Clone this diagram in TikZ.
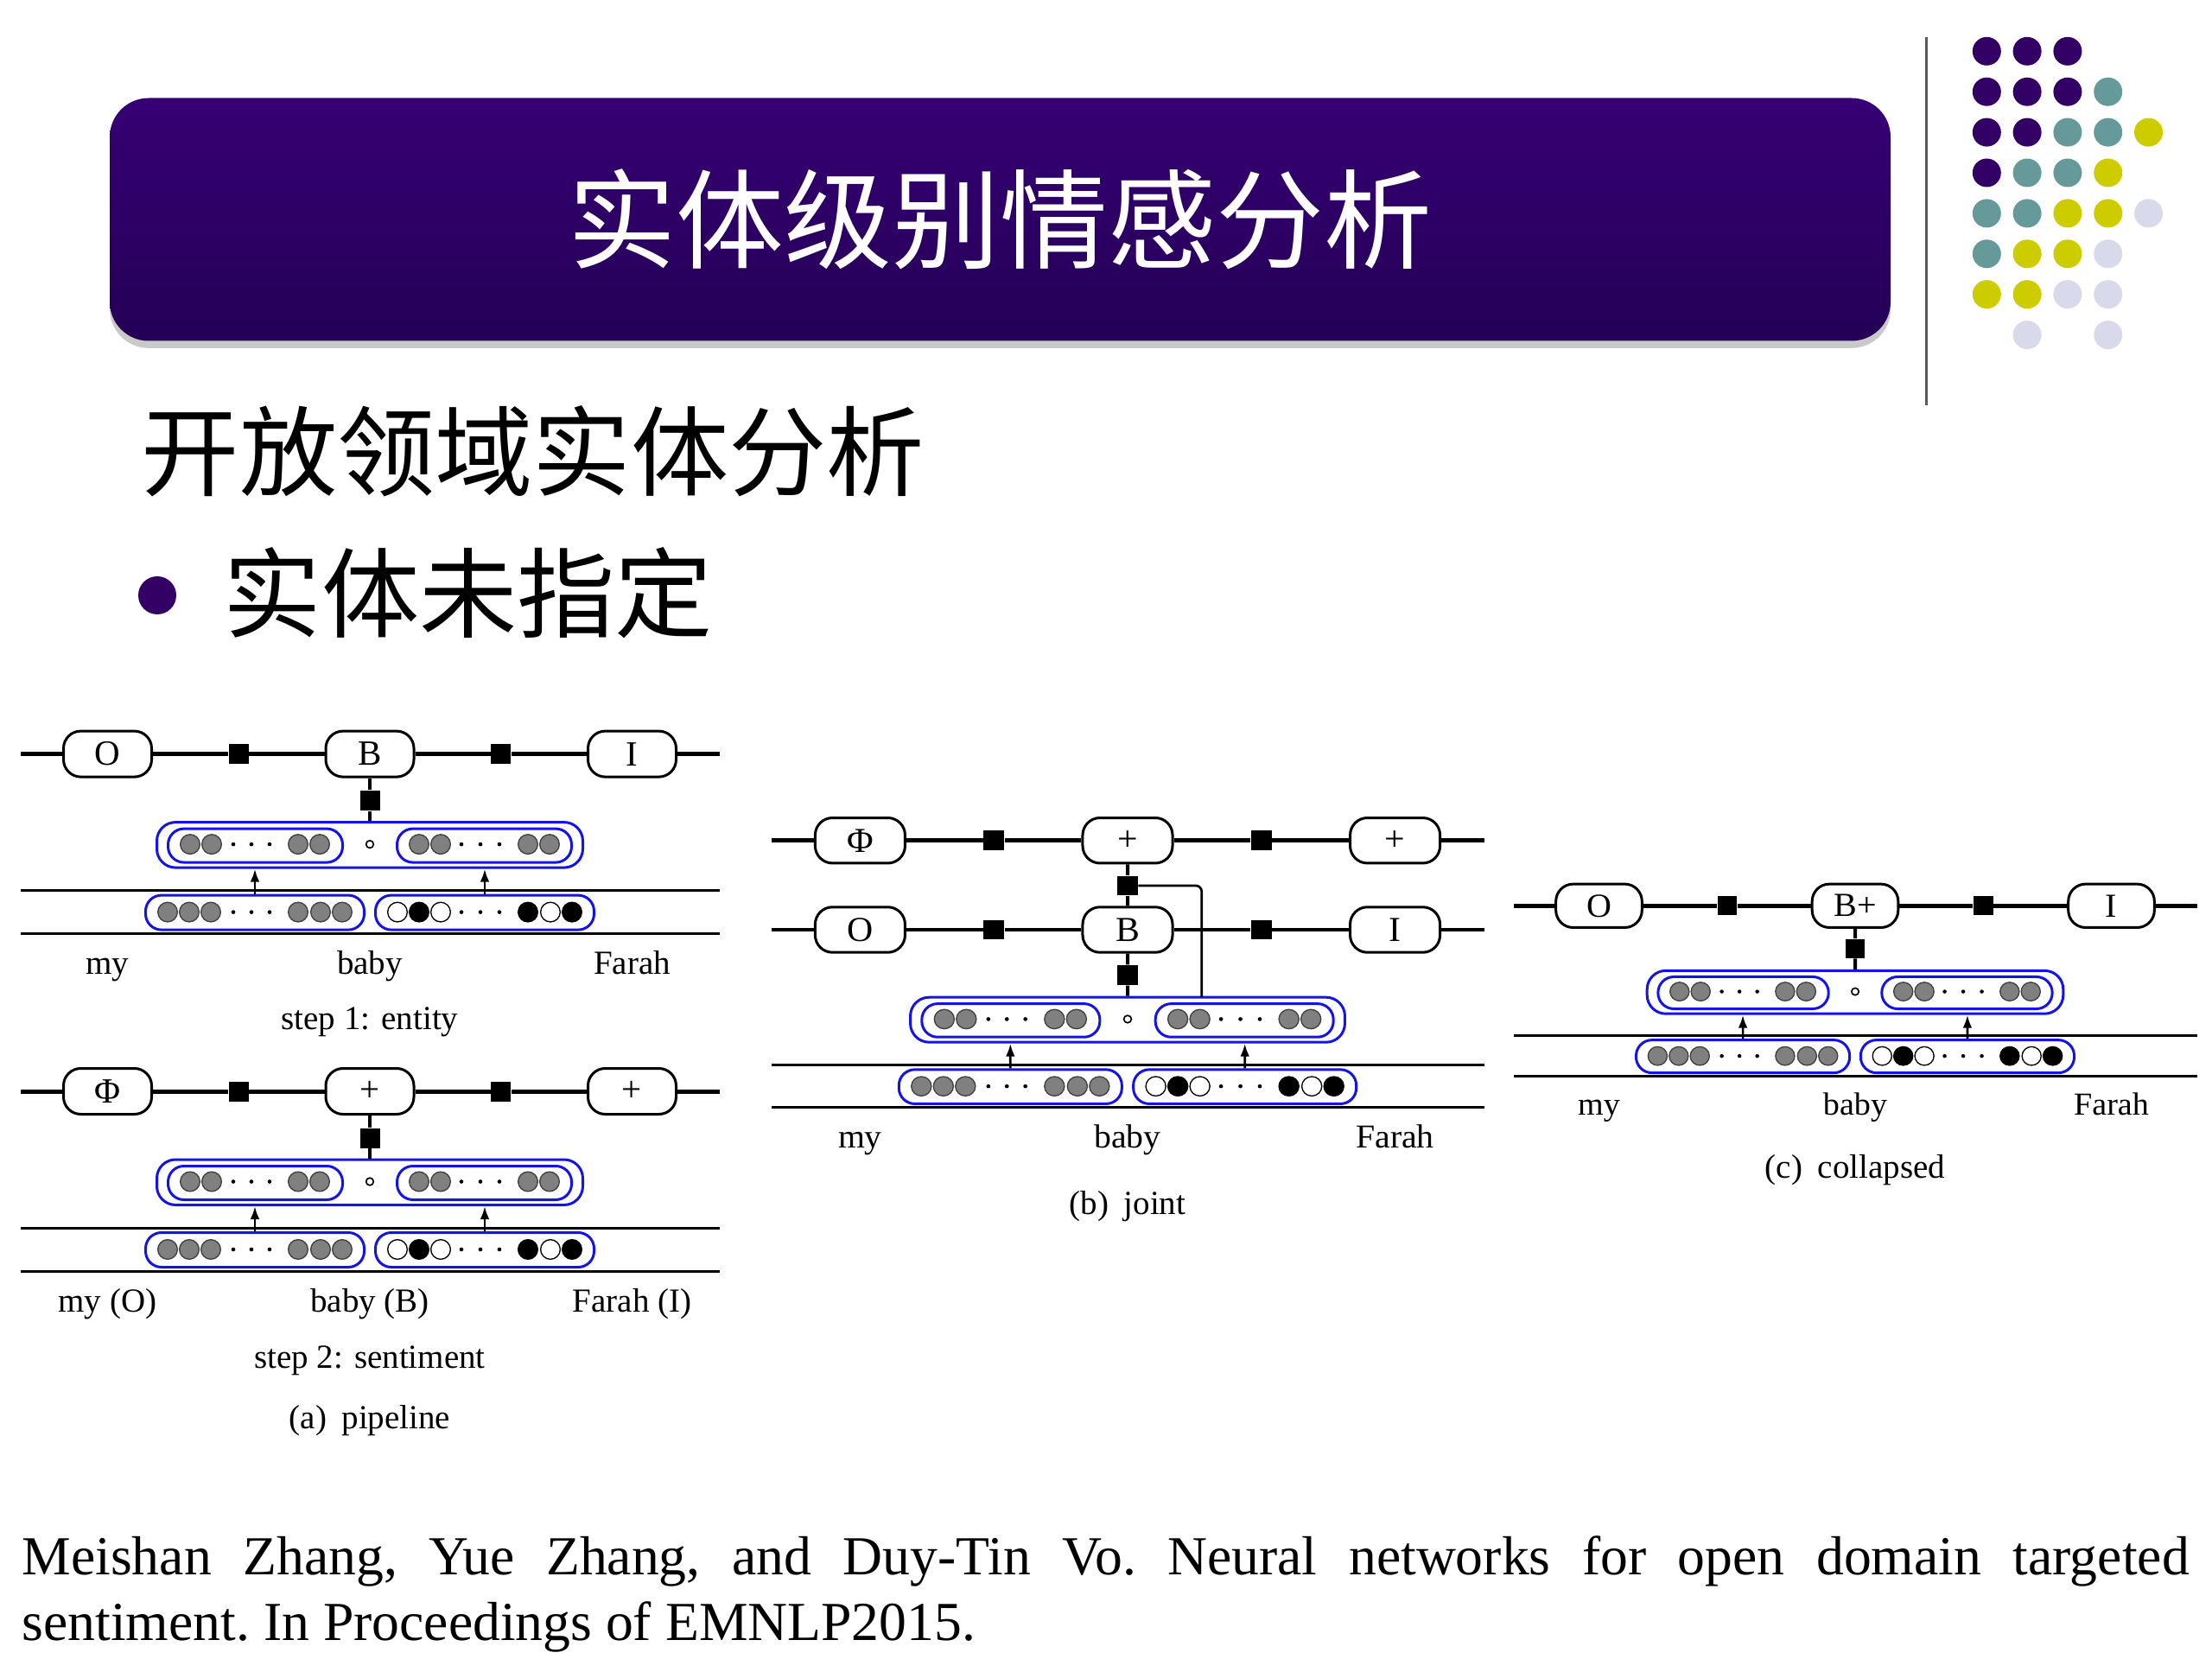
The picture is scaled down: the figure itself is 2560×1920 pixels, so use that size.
\documentclass[tikz,border=0pt]{standalone}
\usepackage{fontspec}
\setmainfont{Liberation Serif}
\newfontfamily\cjk{Noto Sans CJK SC}
\usepackage{tikz}
\usetikzlibrary{shadows,calc,arrows.meta}
\definecolor{ttop}{RGB}{54,0,116}
\definecolor{tbot}{RGB}{36,0,86}
\definecolor{dc0}{RGB}{51,0,102}
\definecolor{dc1}{RGB}{102,153,153}
\definecolor{dc2}{RGB}{204,204,0}
\definecolor{dc3}{RGB}{217,217,236}
\definecolor{boxblue}{RGB}{20,20,230}
\tikzset{lab/.style={draw,line width=0.9pt,rounded corners=6pt,fill=white,minimum width=30.6pt,minimum height=15.9pt,inner sep=0pt,font=\fontsize{12.3}{14}\selectfont},
fac/.style={fill,inner sep=0pt,minimum size=6.9pt},
hid/.style={draw=boxblue,line width=0.9pt,rounded corners=6.5pt,minimum width=147.9pt,minimum height=15.75pt,inner sep=0pt},
sub/.style={draw=boxblue,line width=0.9pt,rounded corners=5.5pt,minimum width=60.6pt,minimum height=11.7pt,inner sep=0pt},
wrd/.style={draw=boxblue,line width=0.9pt,rounded corners=5.5pt,minimum width=75.9pt,minimum height=12pt,inner sep=0pt},
gd/.style={circle,draw=black!75,line width=0.4pt,fill=gray,inner sep=0pt,minimum size=6.8pt},
bd/.style={gd,draw=black,fill=black},wd/.style={gd,draw=black,fill=white},
sd/.style={circle,fill,inner sep=0pt,minimum size=1.4pt},
od/.style={circle,draw,line width=0.5pt,inner sep=0pt,minimum size=2.6pt},
txt/.style={inner sep=0pt,font=\fontsize{11.7}{14}\selectfont},
chain/.style={line width=1.5pt},chainb/.style={line width=1.1pt},
vert/.style={line width=1.2pt},thin/.style={line width=0.9pt},link/.style={line width=0.8pt,rounded corners=2pt},
up/.style={-{Latex[length=4.5pt,width=3.2pt]},line width=0.8pt}}
\tikzset{head/.style={rounded corners=13.5pt,minimum width=618.3pt,minimum height=84.3pt,inner sep=0pt,top color=ttop,bottom color=tbot,text=white,font=\cjk\fontsize{37.5}{40}\selectfont,drop shadow={shadow xshift=0pt,shadow yshift=-2.5pt,opacity=0.35,fill=black!60}},
cjktxt/.style={inner sep=0pt,font=\cjk\fontsize{34}{36}\selectfont}}
% one row of tags joined by factors
\newcommand{\tagrow}[6][chain]{%
\node[lab] (#2L) at (-303.5,#3) {#4};
\node[lab] (#2M) at (0,#3) {#5};
\node[lab] (#2R) at (303.5,#3) {#6};
\node[fac] (#2f) at (-151.75,#3) {};
\node[fac] (#2g) at (151.75,#3) {};
\coordinate (#2l) at (-404,#3);
\coordinate (#2r) at (405,#3);
\draw[#1] (#2l) -- (#2L) -- (#2f) -- (#2M) -- (#2g) -- (#2R) -- (#2r);}
% word vectors and hidden layer
\newcommand{\encoder}[4]{%
\node[hid] (#1h) at (0,105.25) {};
\node[sub] (#1hl) at (-132.5,106) {};
\node[sub] (#1hr) at (132.5,106) {};
\node[od] (#1o) at (0,104.5) {};
\foreach \x [count=\i] in {-208,-183,-83,-58,57,82,183,208} \node[gd] (#1u\i) at (\x,104.5) {};
\foreach \x [count=\i] in {-158,-137,-116,106,128,150} {\node[sd] (#1e\i) at (\x,104.5) {}; \node[sd] (#1d\i) at (\x,183) {};}
\node[wrd] (#1wl) at (-133,183.5) {};
\node[wrd] (#1wr) at (133,183.5) {};
\foreach \x [count=\i] in {-234,-209,-184,-83,-57,-32} \node[gd] (#1p\i) at (\x,183) {};
\foreach \x/\s [count=\i] in {32/wd,57/bd,82/wd,183/bd,209/wd,234/bd} \node[\s] (#1q\i) at (\x,183) {};
\coordinate (#1a) at (-404,158); \coordinate (#1b) at (405,158);
\coordinate (#1c) at (-404,208); \coordinate (#1z) at (405,208);
\draw[thin] (#1a) -- (#1b) (#1c) -- (#1z);
\draw[up] (#1wl) -- (#1wl |- #1h.south);
\draw[up] (#1wr) -- (#1wr |- #1h.south);
\node[txt,anchor=base] (#1m) at (-303.5,255) {#2};
\node[txt,anchor=base] (#1n) at (0,255) {#3};
\node[txt,anchor=base] (#1k) at (303.5,255) {#4};}
\begin{document}
\begin{tikzpicture}[x=0.3pt,y=-0.3pt]
\useasboundingbox (0,0) rectangle (2560,1920);
\fill[white] (0,0) rectangle (2560,1920);
% heading
\node[head] (title) at (1157.5,254) {实体级别情感分析};
\draw[black!65,line width=0.9pt] (2229,43) -- (2229,469);
\foreach \r/\cols in {0/{0,1,2},1/{0,1,2,3},2/{0,1,2,3,4},3/{0,1,2,3},4/{0,1,2,3,4},5/{0,1,2,3},6/{0,1,2,3},7/{1,3}}
  \foreach \c in \cols {
    \pgfmathtruncatemacro\k{(\c+\r<4)?0:((\c+\r<6)?1:((\c+\r<8)?2:3))}
    \node[circle,fill=dc\k,inner sep=0pt,minimum size=9.9pt] (dot\c\r) at (2299.3+46.8*\c,59.3+46.9*\r) {};}
\node[cjktxt,anchor=west] (sec) at (163,522) {开放领域实体分析};
\node[circle,fill=dc0,inner sep=0pt,minimum size=13.2pt] (bul) at (182,689) {};
\node[cjktxt,anchor=west] (item) at (258,686) {实体未指定};
% (a) pipeline
\begin{scope}[shift={(428,872.6)},transform shape]
\tagrow{a1}{0}{O}{B}{I}
\node[fac] (a1v) at (0,54) {};
\encoder{a1}{my}{baby}{Farah}
\draw[vert] (a1M) -- (a1v) -- (a1h);
\end{scope}
\node[txt,anchor=base] (capa1) at (428,1192) {step 1: entity};
\begin{scope}[shift={(428,1263)},transform shape]
\tagrow{a2}{0}{Φ}{+}{+}
\node[fac] (a2v) at (0,54) {};
\encoder{a2}{my (O)}{baby (B)}{Farah (I)}
\draw[vert] (a2M) -- (a2v) -- (a2h);
\end{scope}
\node[txt,anchor=base] (capa2) at (428,1583.7) {step 2: sentiment};
\node[txt,anchor=base] (capa) at (428,1653.6) {(a)\hspace{0.45em}pipeline};
% (b) joint
\begin{scope}[shift={(1305,1076)},xscale=1.02,yscale=0.99,transform shape]
\tagrow{b2}{-104.3}{Φ}{+}{+}
\tagrow[chainb]{b1}{0}{O}{B}{I}
\node[fac] (b2v) at (0,-51.5) {};
\node[fac] (b1v) at (0,53) {};
\encoder{b1}{my}{baby}{Farah}
\coordinate (b1t) at (84,79);
\draw[vert] (b2M) -- (b2v) -- (b1M) -- (b1v) -- (b1h);
\draw[link] (b2v) -- (b2v -| b1t) -- (b1t);
\end{scope}
\node[txt,anchor=base] (capb) at (1305,1405) {(b)\hspace{0.45em}joint};
% (c) collapsed
\begin{scope}[shift={(2147,1048.3)},xscale=0.977,yscale=0.95,transform shape]
\tagrow{c1}{0}{O}{B+}{I}
\node[fac] (c1v) at (0,52) {};
\encoder{c1}{my}{baby}{Farah}
\draw[vert] (c1M) -- (c1v) -- (c1h);
\end{scope}
\node[txt,anchor=base] (capc) at (2147,1363) {(c)\hspace{0.45em}collapsed};
% reference
\node[anchor=base west,inner sep=0pt,font=\fontsize{19.1}{23}\selectfont] (ref1) at (25,1822) {\frenchspacing\makebox[752.4pt][s]{Meishan Zhang, Yue Zhang, and Duy-Tin Vo. Neural networks for open domain targeted}};
\node[anchor=base west,inner sep=0pt,font=\fontsize{19.1}{23}\selectfont] (ref2) at (25,1898) {\frenchspacing sentiment. In Proceedings of EMNLP2015.};
\end{tikzpicture}
\end{document}
